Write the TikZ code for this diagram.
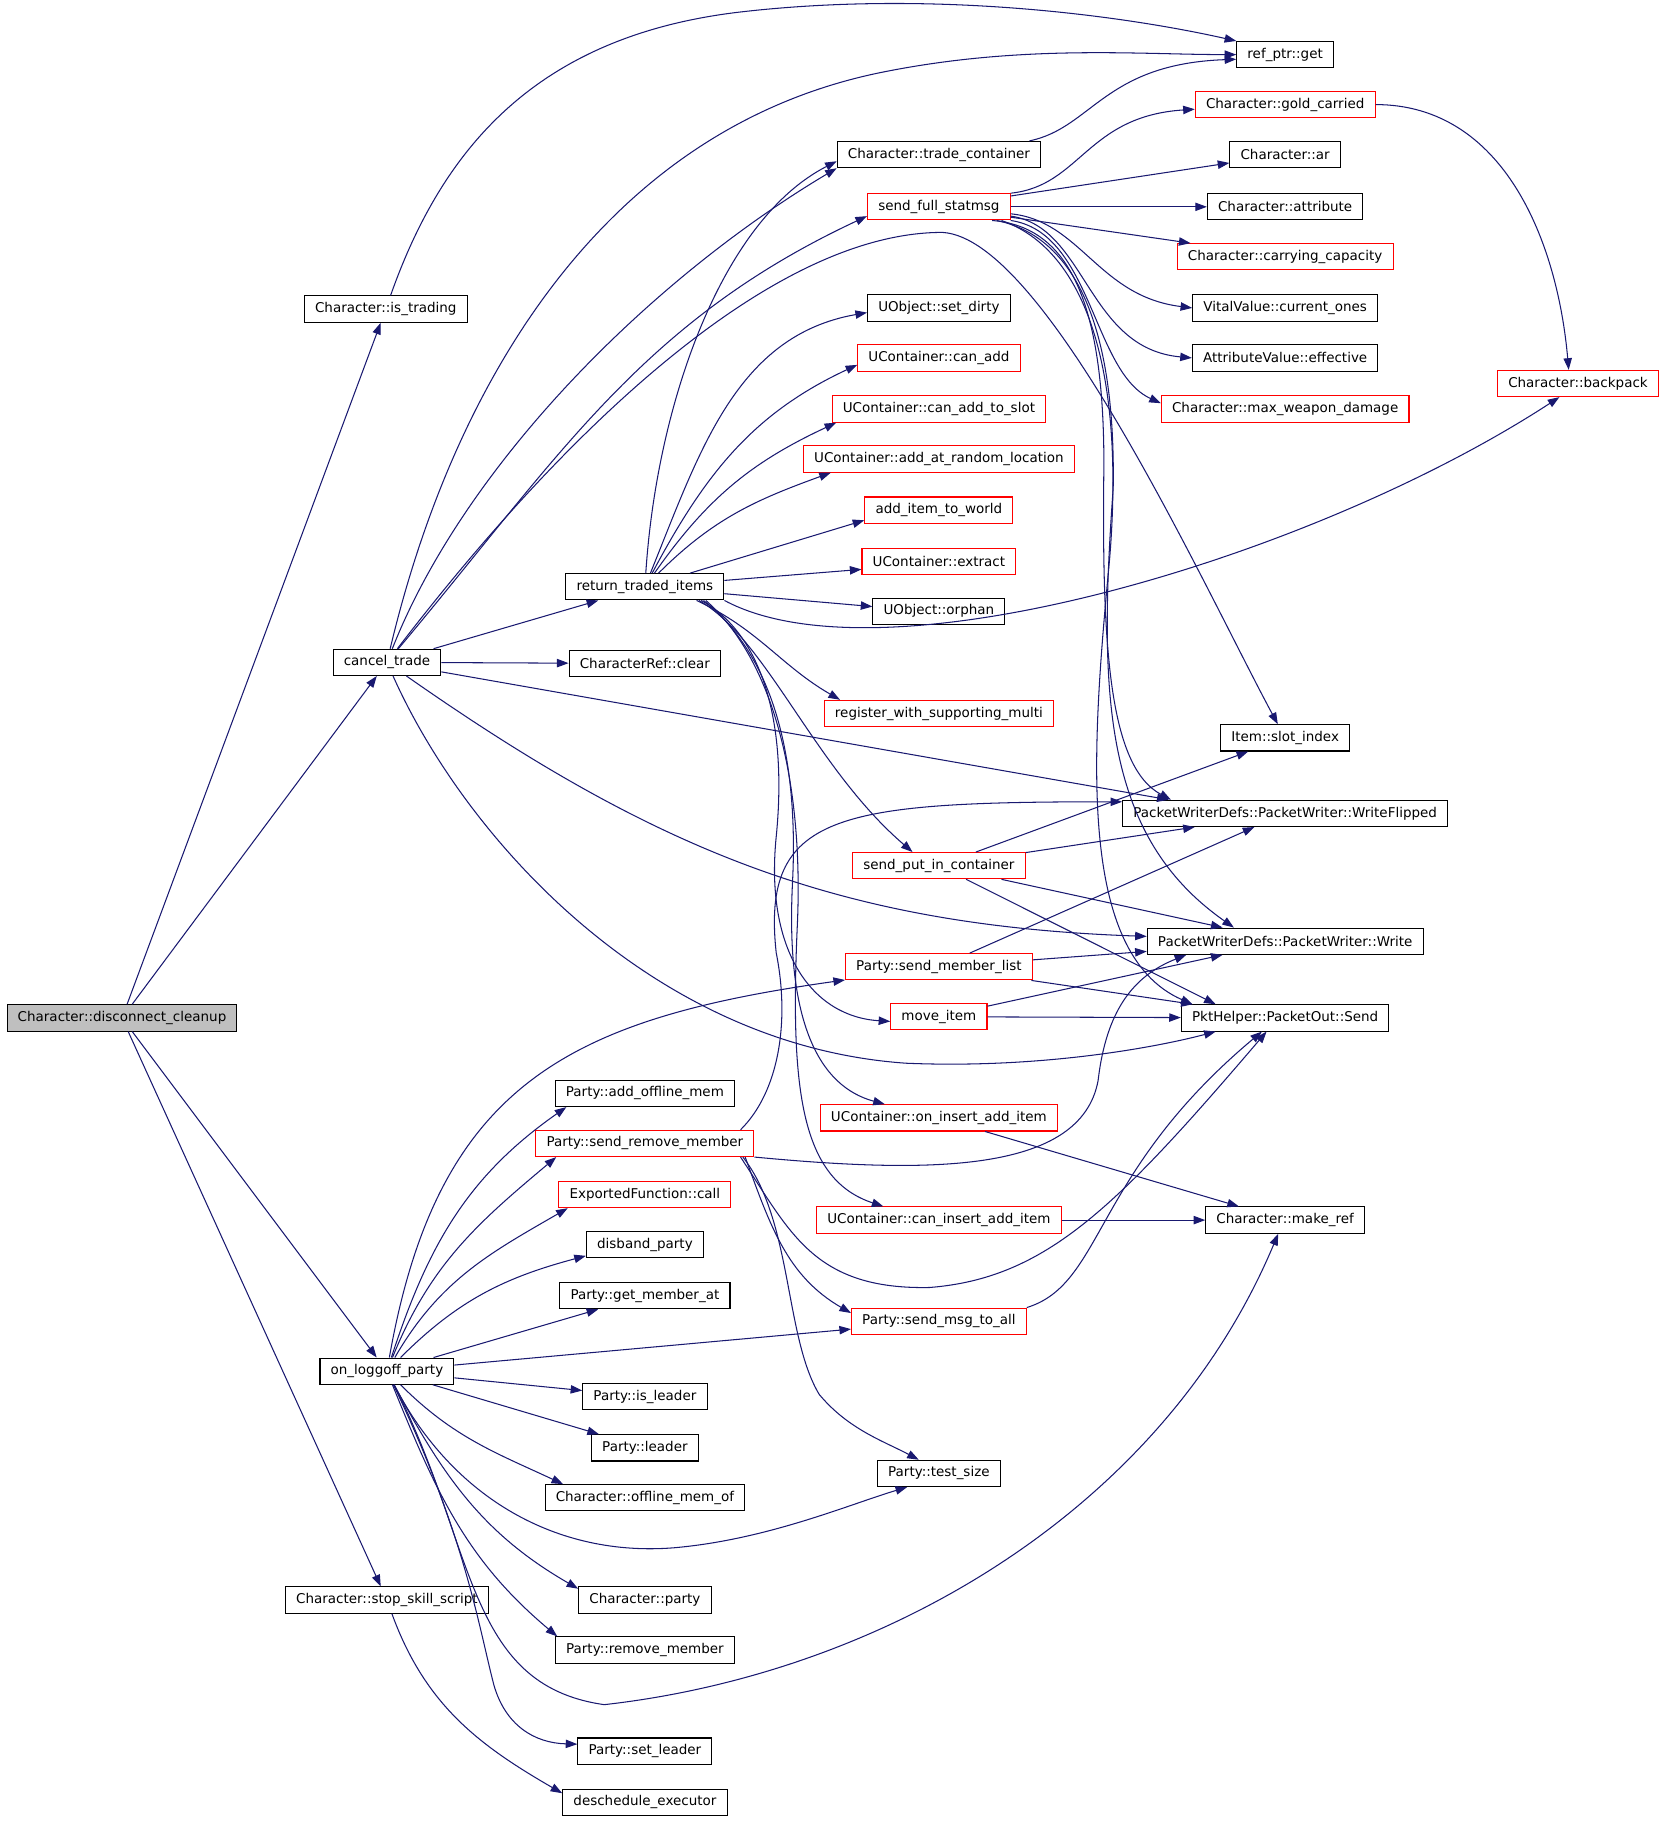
\documentclass[tikz,border=0pt]{standalone}
\usepackage{fontspec}
\setmainfont{DejaVu Sans}
\usetikzlibrary{arrows.meta}
\definecolor{edgeblue}{HTML}{191970}
\definecolor{rootgray}{HTML}{BFBFBF}

\begin{document}
\begin{tikzpicture}[x=0.5pt,y=0.5pt]
		\useasboundingbox (0,0) rectangle (1432,-1568);
		\begin{scope}[every node/.style={rectangle,draw,fill=white,line width=0.45pt,
		              font=\fontsize{5.8}{7}\selectfont,inner xsep=4.6pt,inner ysep=0pt,
		              minimum height=11.3pt},
		              trunc/.style={draw=red}]
		    \node[fill=rootgray] (dc) at (105,-876) {Character::disconnect\_cleanup};
		    % first level
		    \node (istrading) at (332,-266) {Character::is\_trading};
		    \node (canceltrade) at (333,-570) {cancel\_trade};
		    \node (onloggoff) at (333,-1180) {on\_loggoff\_party};
		    \node (stopskill) at (333,-1377) {Character::stop\_skill\_script};
		    % second level
		    \node (rettraded) at (555,-505) {return\_traded\_items};
		    \node (charrefclear) at (555,-571) {CharacterRef::clear};
		    \node (addoffline) at (555,-941) {Party::add\_offline\_mem};
		    \node[trunc] (sendremove) at (555,-984) {Party::send\_remove\_member};
		    \node[trunc] (expcall) at (555,-1028) {ExportedFunction::call};
		    \node (disband) at (555,-1071) {disband\_party};
		    \node (getmember) at (555,-1115) {Party::get\_member\_at};
		    \node (isleader) at (555,-1202) {Party::is\_leader};
		    \node (leader) at (555,-1246) {Party::leader};
		    \node (offlinemem) at (555,-1289) {Character::offline\_mem\_of};
		    \node (charparty) at (555,-1377) {Character::party};
		    \node (removemember) at (555,-1420) {Party::remove\_member};
		    \node (setleader) at (555,-1507) {Party::set\_leader};
		    \node (deschedule) at (555,-1551) {deschedule\_executor};
		    % third level
		    \node (tradecont) at (808,-133) {Character::trade\_container};
		    \node[trunc] (sendfull) at (808,-178) {send\_full\_statmsg};
		    \node (setdirty) at (808,-265) {UObject::set\_dirty};
		    \node[trunc] (canadd) at (808,-308) {UContainer::can\_add};
		    \node[trunc] (canaddslot) at (808,-352) {UContainer::can\_add\_to\_slot};
		    \node[trunc] (addrandom) at (808,-395) {UContainer::add\_at\_random\_location};
		    \node[trunc] (additem) at (808,-439) {add\_item\_to\_world};
		    \node[trunc] (extract) at (808,-483) {UContainer::extract};
		    \node (orphan) at (808,-526) {UObject::orphan};
		    \node[trunc] (registermulti) at (808,-614) {register\_with\_supporting\_multi};
		    \node[trunc] (sendput) at (808,-745) {send\_put\_in\_container};
		    \node[trunc] (sendmember) at (808,-832) {Party::send\_member\_list};
		    \node[trunc] (moveitem) at (808,-875) {move\_item};
		    \node[trunc] (oninsert) at (808,-962) {UContainer::on\_insert\_add\_item};
		    \node[trunc] (caninsert) at (808,-1050) {UContainer::can\_insert\_add\_item};
		    \node[trunc] (sendmsg) at (808,-1137) {Party::send\_msg\_to\_all};
		    \node (testsize) at (808,-1268) {Party::test\_size};
		    % fourth level
		    \node (refget) at (1106,-47) {ref\_ptr::get};
		    \node[trunc] (goldcarried) at (1106,-90) {Character::gold\_carried};
		    \node (charar) at (1106,-133) {Character::ar};
		    \node (charattr) at (1106,-178) {Character::attribute};
		    \node[trunc] (carrycap) at (1106,-221) {Character::carrying\_capacity};
		    \node (currentones) at (1106,-265) {VitalValue::current\_ones};
		    \node (effective) at (1106,-308) {AttributeValue::effective};
		    \node[trunc] (maxweapon) at (1106,-352) {Character::max\_weapon\_damage};
		    \node (slotindex) at (1106,-635) {Item::slot\_index};
		    \node (writeflipped) at (1106,-700) {PacketWriterDefs::PacketWriter::WriteFlipped};
		    \node (pwrite) at (1106,-810) {PacketWriterDefs::PacketWriter::Write};
		    \node (pktsend) at (1106,-876) {PktHelper::PacketOut::Send};
		    \node (makeref) at (1106,-1050) {Character::make\_ref};
		    \node[trunc] (backpack) at (1358,-330) {Character::backpack};
		\end{scope}

		\begin{scope}[>={Triangle[length=5pt,width=3.6pt]},
		              edgeblue,line width=0.45pt,->,
		              every edge/.style={draw=edgeblue,line width=0.45pt,->}]
		    % root
		    \path (dc) edge (istrading);
		    \path (dc) edge (canceltrade);
		    \path (dc) edge (onloggoff);
		    \path (dc) edge (stopskill);
		    % is_trading
		    \draw (istrading) .. controls (380,-130) and (460,-30) .. (640,-10)
		        .. controls (800,8) and (960,-12) .. (refget.north west);
		    % cancel_trade
		    \draw (canceltrade) .. controls (390,-330) and (520,-110) .. (760,-62)
		        .. controls (880,-38) and (980,-47) .. (refget.west);
		    \draw (canceltrade) .. controls (400,-400) and (560,-240) .. (tradecont.south west);
		    \path (canceltrade) edge[out=50,in=205] ([yshift=-4pt]sendfull.west);
		    \draw (canceltrade) .. controls (480,-378) and (661,-200) .. (811,-200)
		        .. controls (900,-205) and (1037,-507) .. (slotindex);
		    \path (canceltrade) edge (rettraded);
		    \path (canceltrade) edge (charrefclear);
		    \path (canceltrade) edge ([xshift=20pt]writeflipped.north west);
		    \path (canceltrade) edge[out=-35,in=178] (pwrite);
		    \draw (canceltrade) .. controls (400,-720) and (560,-900) .. (780,-915)
		        .. controls (900,-920) and (1000,-900) .. ([xshift=15pt]pktsend.south west);
		    % return_traded_items
		    \draw (rettraded) .. controls (565,-350) and (620,-190) .. ([yshift=3pt]tradecont.south west);
		    \path (rettraded) edge[out=68,in=190] ([yshift=-2pt]setdirty.west);
		    \path (rettraded) edge[out=62,in=205] ([yshift=-3pt]canadd.west);
		    \path (rettraded) edge[out=55,in=205] ([xshift=2pt]canaddslot.south west);
		    \path (rettraded) edge[out=45,in=200] ([xshift=12pt]addrandom.south west);
		    \path (rettraded) edge ([yshift=1.5pt]additem.south west);
		    \path (rettraded) edge ([yshift=-3.5pt]extract.west);
		    \path (rettraded) edge ([yshift=2pt]orphan.west);
		    \draw (rettraded.south east) .. controls (760,-590) and (1130,-480) .. ([xshift=-8pt]backpack.south);
		    \path ([xshift=-12pt]rettraded.south east) edge[out=-25,in=150] ([xshift=7pt]registermulti.north west);
		    \draw ([xshift=-11pt]rettraded.south east) .. controls (660,-550) and (700,-660) .. ([xshift=26pt]sendput.north west);
		    \draw ([xshift=-10pt]rettraded.south east) .. controls (655,-545) and (678,-620) .. (668,-720)
		        .. controls (658,-820) and (700,-875) .. ([yshift=-2pt]moveitem.west);
		    \draw ([xshift=-9pt]rettraded.south east) .. controls (660,-560) and (688,-640) .. (682,-760)
		        .. controls (676,-880) and (705,-935) .. ([xshift=28pt]oninsert.north west);
		    \draw ([xshift=-8pt]rettraded.south east) .. controls (668,-570) and (692,-680) .. (686,-800)
		        .. controls (680,-940) and (690,-1015) .. ([xshift=29pt]caninsert.north west);
		    % send_full_statmsg
		    \draw (sendfull.north east) .. controls (930,-160) and (935,-100) .. ([yshift=-2pt]goldcarried.west);
		    \path (sendfull) edge (charar);
		    \path (sendfull) edge (charattr);
		    \path (sendfull) edge (carrycap);
		    \draw ([yshift=-3pt]sendfull.east) .. controls (930,-190) and (945,-255) .. (currentones.west);
		    \draw ([yshift=-4pt]sendfull.east) .. controls (935,-195) and (935,-300) .. (effective.west);
		    \draw (sendfull.south east) .. controls (940,-200) and (940,-320) .. ([yshift=2.5pt]maxweapon.west);
		    \draw ([xshift=-8pt]sendfull.south east) .. controls (920,-195) and (950,-260) .. (950,-400)
		        .. controls (948,-560) and (955,-660) .. ([xshift=21pt]writeflipped.north west);
		    \draw ([xshift=-6pt]sendfull.south east) .. controls (930,-205) and (960,-290) .. (958,-420)
		        .. controls (945,-600) and (950,-720) .. ([xshift=37.5pt]pwrite.north west);
		    \draw ([xshift=-4pt]sendfull.south east) .. controls (935,-215) and (968,-320) .. (955,-480)
		        .. controls (940,-640) and (925,-820) .. ([xshift=5pt]pktsend.north west);
		    % trade_container, gold_carried
		    \draw ([xshift=-5pt]tradecont.north east) .. controls (940,-110) and (950,-55) .. ([yshift=-2pt]refget.west);
		    \path (goldcarried.east) edge[out=0,in=95] ([xshift=-4pt]backpack.north);
		    % packet senders
		    \path (sendput) edge (slotindex);
		    \path (sendput) edge (writeflipped);
		    \path (sendput) edge (pwrite);
		    \path (sendput) edge ([xshift=15pt]pktsend.north west);
		    \path (sendmember) edge (writeflipped);
		    \path (sendmember) edge (pwrite);
		    \path (sendmember) edge (pktsend);
		    \path (moveitem) edge (pwrite);
		    \path (moveitem) edge (pktsend);
		    \path (oninsert) edge (makeref);
		    \path (caninsert) edge (makeref);
		    \draw (sendmsg.north east) .. controls (950,-1105) and (940,-1010) .. ([xshift=-10pt]pktsend.south);
		    % send_remove_member
		    \draw ([xshift=-6pt]sendremove.north east) .. controls (670,-940) and (680,-880) .. (668,-820)
		        .. controls (655,-700) and (720,-690) .. ([yshift=5pt]writeflipped.west);
		    \draw (sendremove.south east) .. controls (800,-1010) and (930,-1010) .. (945,-930)
		        .. controls (952,-870) and (975,-840) .. ([xshift=17pt]pwrite.south west);
		    \draw ([xshift=-6pt]sendremove.south east) .. controls (680,-1060) and (700,-1110) .. (800,-1108)
		        .. controls (900,-1100) and (960,-1040) .. ([xshift=-8pt]pktsend.south);
		    \path ([xshift=-4pt]sendremove.south east) edge[out=-70,in=150] ([yshift=3.5pt]sendmsg.west);
		    \draw ([xshift=-5pt]sendremove.south east) .. controls (682,-1050) and (675,-1150) .. (705,-1200)
		        .. controls (730,-1230) and (760,-1240) .. ([xshift=18pt]testsize.north west);
		    % on_loggoff_party
		    \path (onloggoff) edge[out=80,in=188,looseness=1.2] (sendmember);
		    \path (onloggoff) edge[out=72,in=215] ([xshift=5pt]addoffline.south west);
		    \path (onloggoff) edge[out=68,in=220] ([xshift=9pt]sendremove.south west);
		    \path (onloggoff) edge[out=60,in=210] ([xshift=4pt]expcall.south west);
		    \path (onloggoff) edge[out=45,in=195] ([yshift=1pt]disband.south west);
		    \path (onloggoff) edge (getmember);
		    \path (onloggoff) edge (sendmsg);
		    \path (onloggoff) edge (isleader);
		    \path (onloggoff) edge (leader);
		    \path (onloggoff) edge[out=-45,in=155] ([xshift=8pt]offlinemem.north west);
		    \draw (onloggoff) .. controls (390,-1290) and (480,-1340) .. (580,-1332)
		        .. controls (660,-1325) and (730,-1295) .. ([xshift=13pt]testsize.south west);
		    \path (onloggoff) edge[out=-62,in=150] ([yshift=-1pt]charparty.north west);
		    \path (onloggoff) edge[out=-68,in=140] ([xshift=1pt]removemember.north west);
		    \draw (onloggoff) .. controls (410,-1330) and (400,-1450) .. (520,-1467)
		        .. controls (760,-1440) and (1000,-1300) .. ([xshift=-3pt]makeref.south);
		    \draw (onloggoff) .. controls (400,-1320) and (412,-1400) .. (425,-1450)
		        .. controls (435,-1485) and (460,-1500) .. ([yshift=3pt]setleader.west);
		    % stop_skill_script
		    \path (stopskill) edge[out=-70,in=150] ([yshift=-2pt]deschedule.north west);
		\end{scope}
\end{tikzpicture}
\end{document}
